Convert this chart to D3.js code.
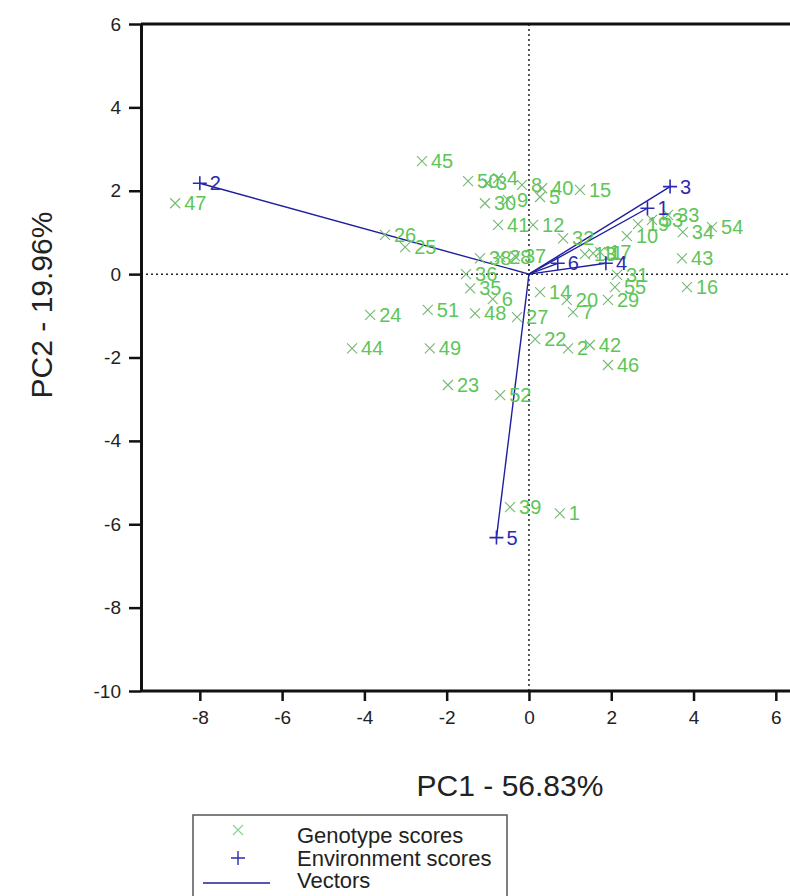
<!DOCTYPE html>
<html>
<head>
<meta charset="utf-8">
<script src="https://cdn.jsdelivr.net/npm/d3@7"></script>
<style>
  body { margin: 0; background: #fff; }
  svg { display: block; font-family: "Liberation Sans", Arial, sans-serif; }
</style>
</head>
<body>
<script>
// genotype scores (green x)
const genoIds = [1, 2, 3, 4, 5, 6, 7, 8, 9, 10, 11, 12, 13, 14, 15, 16, 17, 19, 20, 22,
  23, 24, 25, 26, 27, 28, 29, 30, 31, 32, 33, 34, 35, 36, 37, 38, 39, 40, 41, 42,
  43, 44, 45, 46, 47, 48, 49, 50, 51, 52, 53, 54, 55];
const genoPC1 = [0.75, 0.95, -1.02, -0.75, 0.27, -0.88, 1.07, -0.17, -0.51, 2.38, 1.56, 0.10, 1.36, 0.27, 1.24, 3.84, 1.73, 2.65, 0.92, 0.15,
  -1.97, -3.86, -3.01, -3.50, -0.29, -0.70, 1.92, -1.07, 2.14, 0.83, 3.38, 3.74, -1.43, -1.53, -0.34, -1.19, -0.46, 0.32, -0.75, 1.48,
  3.72, -4.30, -2.60, 1.92, -8.60, -1.31, -2.41, -1.48, -2.46, -0.70, 2.99, 4.45, 2.09];
const genoPC2 = [-5.74, -1.78, 2.18, 2.30, 1.85, -0.60, -0.91, 2.14, 1.78, 0.91, 0.50, 1.18, 0.48, -0.43, 2.02, -0.31, 0.53, 1.20, -0.62, -1.56,
  -2.66, -0.98, 0.65, 0.94, -1.03, 0.41, -0.62, 1.70, -0.02, 0.86, 1.42, 1.01, -0.34, 0.00, 0.43, 0.38, -5.59, 2.06, 1.18, -1.70,
  0.38, -1.78, 2.71, -2.18, 1.70, -0.94, -1.78, 2.23, -0.86, -2.90, 1.30, 1.13, -0.31];

// environment scores (blue +) and their vectors
const envIds = [1, 2, 3, 4, 5, 6];
const envPC1 = [2.88, -8.00, 3.43, 1.87, -0.79, 0.70];
const envPC2 = [1.58, 2.18, 2.10, 0.26, -6.32, 0.26];

const xTicks = [-8, -6, -4, -2, 0, 2, 4, 6];
const yTicks = [-10, -8, -6, -4, -2, 0, 2, 4, 6];
const xTitle = "PC1 - 56.83%";
const yTitle = "PC2 - 19.96%";
const legendItems = ["Genotype scores", "Environment scores", "Vectors"];

const W = 790, H = 896;
const green = "#5ec558", blue = "#2b2bb0";

const svg = d3.select("body").append("svg").attr("width", W).attr("height", H);

const x = d3.scaleLinear().domain([-9.43, 6.6]).range([141, 800.5]);
const y = d3.scaleLinear().domain([-10, 6]).range([691, 24]);

// zero lines
svg.append("line")
  .attr("x1", x(0)).attr("x2", x(0)).attr("y1", y(6)).attr("y2", y(-10))
  .attr("stroke", "#222").attr("stroke-width", 1.5).attr("stroke-dasharray", "2,3");
svg.append("line")
  .attr("x1", x(-9.43)).attr("x2", W).attr("y1", y(0)).attr("y2", y(0))
  .attr("stroke", "#222").attr("stroke-width", 1.5).attr("stroke-dasharray", "2,3");

// top frame line
svg.append("line")
  .attr("x1", 141).attr("x2", W).attr("y1", y(6)).attr("y2", y(6))
  .attr("stroke", "#111").attr("stroke-width", 3);

// axes
const fmt = (d) => String(d);
const gx = svg.append("g")
  .attr("transform", "translate(0," + y(-10) + ")")
  .call(d3.axisBottom(x).tickValues(xTicks).tickFormat(fmt).tickSize(10).tickSizeOuter(0).tickPadding(10));
const gy = svg.append("g")
  .attr("transform", "translate(" + x(-9.43) + ",0)")
  .call(d3.axisLeft(y).tickValues(yTicks).tickFormat(fmt).tickSize(12).tickSizeOuter(0).tickPadding(8));
[gx, gy].forEach((g) => {
  g.attr("font-size", null).attr("font-family", null);
  g.select(".domain").attr("stroke", "#111").attr("stroke-width", 3);
  g.selectAll(".tick line").attr("stroke", "#111").attr("stroke-width", 2.5);
  g.selectAll(".tick text").attr("fill", "#222").style("font-size", "19px");
});
gx.select(".domain").attr("d", "M141,0H" + W);

// vectors
const env = envIds.map((id, i) => ({ id, pc1: envPC1[i], pc2: envPC2[i] }));
svg.append("g")
  .selectAll("line")
  .data(env)
  .join("line")
  .attr("x1", x(0)).attr("y1", y(0))
  .attr("x2", (d) => x(d.pc1)).attr("y2", (d) => y(d.pc2))
  .attr("stroke", "#1e1ea0").attr("stroke-width", 1.4);

// genotype markers
const geno = genoIds.map((id, i) => ({ id, pc1: genoPC1[i], pc2: genoPC2[i] }));
const gg = svg.append("g").selectAll("g").data(geno).join("g")
  .attr("transform", (d) => "translate(" + x(d.pc1) + "," + y(d.pc2) + ")");
gg.append("path")
  .attr("d", "M-5,-5L5,5M-5,5L5,-5")
  .attr("stroke", "#74b874").attr("stroke-width", 1.1).attr("fill", "none");
gg.append("text")
  .attr("x", 9).attr("y", 7)
  .attr("fill", green).style("font-size", "20px")
  .text((d) => d.id);

// environment markers
const eg = svg.append("g").selectAll("g").data(env).join("g")
  .attr("transform", (d) => "translate(" + x(d.pc1) + "," + y(d.pc2) + ")");
eg.append("path")
  .attr("d", "M-7,0H7M0,-7V7")
  .attr("stroke", blue).attr("stroke-width", 1.6).attr("fill", "none");
eg.append("text")
  .attr("x", 10).attr("y", 7)
  .attr("fill", blue).style("font-size", "20px")
  .text((d) => d.id);

// titles
svg.append("text")
  .attr("x", 510).attr("y", 796)
  .attr("text-anchor", "middle").attr("fill", "#222").style("font-size", "30px")
  .text(xTitle);
svg.append("text")
  .attr("transform", "translate(52,305) rotate(-90)")
  .attr("text-anchor", "middle").attr("fill", "#222").style("font-size", "30px")
  .text(yTitle);

// legend
const lg = svg.append("g");
lg.append("rect")
  .attr("x", 193).attr("y", 815).attr("width", 314).attr("height", 100)
  .attr("fill", "#fff").attr("stroke", "#555").attr("stroke-width", 1.5);
lg.append("path").attr("d", "M233,825L243,835M233,835L243,825")
  .attr("stroke", "#8cd08c").attr("stroke-width", 1.1);
lg.append("path").attr("d", "M231,858H245M238,851V865")
  .attr("stroke", blue).attr("stroke-width", 1.4);
lg.append("line").attr("x1", 203).attr("x2", 270).attr("y1", 883).attr("y2", 883)
  .attr("stroke", "#1e1ea0").attr("stroke-width", 1.4);
lg.selectAll("text.leg")
  .data(legendItems)
  .join("text")
  .attr("class", "leg")
  .attr("x", 297).attr("y", (d, i) => 843 + i * 22.5)
  .attr("fill", "#222").style("font-size", "22px")
  .text((d) => d);
</script>
</body>
</html>
